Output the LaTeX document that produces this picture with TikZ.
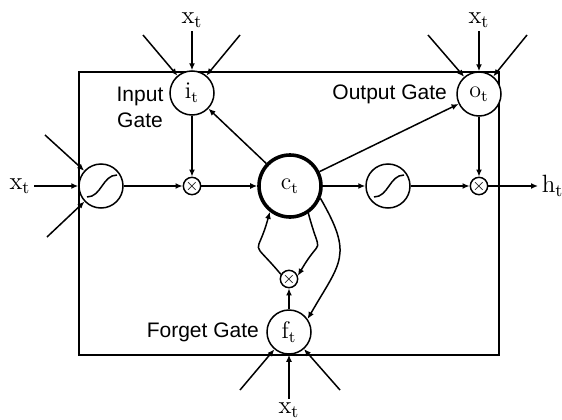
\documentclass[tikz,border=0pt]{standalone}
\usepackage{fontspec}
\newfontfamily\gatefont{Liberation Sans}
\usepackage{tikz}
\usetikzlibrary{arrows.meta, positioning}

\begin{document}
\begin{tikzpicture}[x=0.5pt, y=0.5pt, line width=0.75pt, >={Latex[length=3.5pt,width=3pt]},
		gate/.style={circle, draw, fill=white, minimum size=22pt, inner sep=0pt, font=\fontsize{12}{14}\selectfont},
		cellnode/.style={gate, minimum size=31pt, line width=1.8pt},
		mult/.style={circle, draw, fill=white, minimum size=8pt, inner sep=0pt, font=\footnotesize},
		squash/.style={gate, path picture={\draw ([shift={(-7pt,-5.5pt)}]path picture bounding box.center) to[out=0,in=180] ([shift={(8pt,5.5pt)}]path picture bounding box.center);}},
		inlabel/.style={inner sep=1.5pt, font=\fontsize{12.5}{14}\selectfont},
		gatetext/.style={font=\gatefont\fontsize{10.5}{13}\selectfont}]
		\useasboundingbox (0,0) rectangle (562,419); % Margini
		
		% Riquadro della cella
		\draw (79,347) rectangle (499,64);
		
		% Porte e nodi
		\node[gate] (ig) at (192,326) {$\mathrm{i}_\mathrm{t}$}; % Porta di ingresso
		\node[gate] (og) at (479,325) {$\mathrm{o}_\mathrm{t}$}; % Porta di uscita
		\node[gate] (fg) at (289,87) {$\mathrm{f}_\mathrm{t}$}; % Porta di oblio
		\node[squash] (sigin) at (101,233) {}; % Sigmoide ingresso
		\node[squash] (sigout) at (388,233) {}; % Sigmoide uscita
		\node[mult] (mulin) at (192,233) {$\times$};
		\node[mult] (mulout) at (479,233) {$\times$};
		\node[mult] (mulf) at (289,140) {$\times$};
		\node[cellnode] (cell) at (290,233) {$\mathrm{c}_\mathrm{t}$}; % Stato della cella
		
		% Etichette delle porte
		\node[gatetext, align=center] (iglab) at (140,312) {Input\\Gate};
		\node[gatetext, left=1pt of og] (oglab) {Output Gate};
		\node[gatetext, left=0pt of fg] (fglab) {Forget Gate};
		
		% Ingressi e uscita
		\node[inlabel] (xi) at (192,399) {$\mathrm{x}_\mathrm{t}$};
		\node[inlabel] (xo) at (479,399) {$\mathrm{x}_\mathrm{t}$};
		\node[inlabel] (xs) at (20,233) {$\mathrm{x}_\mathrm{t}$};
		\node[inlabel] (xf) at (289,9) {$\mathrm{x}_\mathrm{t}$};
		\node[inlabel, anchor=west] (ht) at (538,233) {$\mathrm{h}_\mathrm{t}$};
		
		% Estremi liberi delle frecce oblique
		\coordinate (ia) at (143,384); \coordinate (ib) at (240,384);
		\coordinate (oa) at (428,384); \coordinate (ob) at (527,384);
		\coordinate (sa) at (45,284); \coordinate (sb) at (47,182);
		\coordinate (fa) at (240,29); \coordinate (fb) at (340,29);
		
		% Frecce in ingresso
		\draw[->] (xi) -- (ig); \draw[->] (ia) -- (ig); \draw[->] (ib) -- (ig);
		\draw[->] (xo) -- (og); \draw[->] (oa) -- (og); \draw[->] (ob) -- (og);
		\draw[->] (xs) -- (sigin); \draw[->] (sa) -- (sigin); \draw[->] (sb) -- (sigin);
		\draw[->] (xf) -- (fg); \draw[->] (fa) -- (fg); \draw[->] (fb) -- (fg);
		
		% Flusso principale
		\draw[->] (sigin) -- (mulin);
		\draw[->] (mulin) -- (cell);
		\draw[->] (cell) -- (sigout);
		\draw[->] (sigout) -- (mulout);
		\draw[->] (mulout) -- (ht);
		\draw[->] (ig) -- (mulin);
		\draw[->] (og) -- (mulout);
		\draw[->] (cell) -- (ig);
		\draw[->] (cell) -- (og);
		\draw[->] (fg) -- (mulf);
		
		% Anelli della cella
		\draw[->] (mulf.150) to[out=130, in=-105, looseness=2] (cell.232);
		\draw[->] (cell.-56) to[out=-75, in=60, looseness=2] (mulf.20);
		\draw[->] (cell.-22) to[out=-60, in=60, looseness=1.4] (fg.35);
	\end{tikzpicture}
\end{document}
